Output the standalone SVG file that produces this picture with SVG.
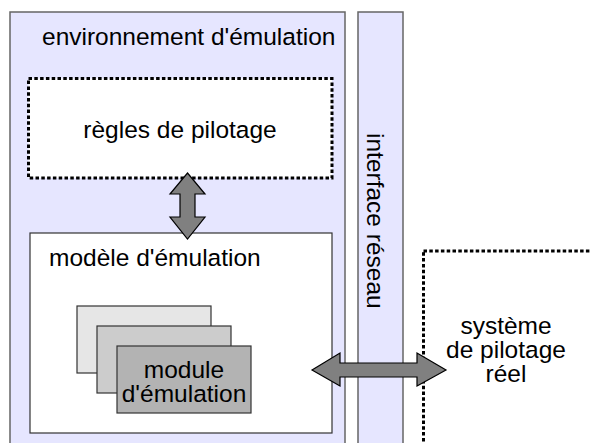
<svg xmlns="http://www.w3.org/2000/svg" width="591" height="443" viewBox="0 0 591 443">
<style>
text{font-family:"Liberation Sans",Arial,sans-serif;font-size:24.5px;fill:#000}
.panel{fill:#e6e6ff;stroke:#666;stroke-width:1.5}
.dash{fill:#fff;stroke:#000;stroke-width:3;stroke-dasharray:3.5 2.3}
.card{stroke:#333;stroke-width:1.2}
.arrow{fill:#808080;stroke:#000;stroke-width:1.2;stroke-linejoin:miter}
</style>
<rect width="591" height="443" fill="#fff"/>
<g id="environnement">
<rect class="panel" x="10" y="12" width="335" height="445"/>
<text x="42" y="45">environnement d'émulation</text>
</g>
<g id="interface">
<rect class="panel" x="358" y="12" width="45" height="445"/>
<text transform="translate(367,133) rotate(90)">interface réseau</text>
</g>
<g id="regles">
<rect class="dash" x="28.5" y="78.5" width="303.5" height="99.5"/>
<text x="180" y="138" text-anchor="middle">règles de pilotage</text>
</g>
<g id="modele">
<rect x="30" y="233" width="302" height="200" fill="#fff" stroke="#333" stroke-width="1.2"/>
<text x="49" y="266">modèle d'émulation</text>
</g>
<g id="modules">
<rect class="card" x="77" y="306" width="134" height="67" fill="#e6e6e6"/>
<rect class="card" x="97" y="326" width="134" height="67" fill="#cccccc"/>
<rect class="card" x="117" y="346" width="134" height="67" fill="#b3b3b3"/>
<text text-anchor="middle"><tspan x="184" y="378">module</tspan><tspan x="184" y="402">d'émulation</tspan></text>
</g>
<g id="systeme">
<rect class="dash" x="423.5" y="251" width="200" height="220"/>
<text text-anchor="middle"><tspan x="506" y="334">système</tspan><tspan x="506" y="358">de pilotage</tspan><tspan x="506" y="382">réel</tspan></text>
</g>
<g id="connectors">
<path class="arrow" d="M187.5,173 L205,194 L195,194 L195,217 L205,217 L187.5,239 L170,217 L180,217 L180,194 L170,194 Z"/>
<path class="arrow" d="M312,370 L340,353 L340,363 L417,363 L417,353 L446,370 L417,386 L417,377 L340,377 L340,386 Z"/>
</g>
</svg>
